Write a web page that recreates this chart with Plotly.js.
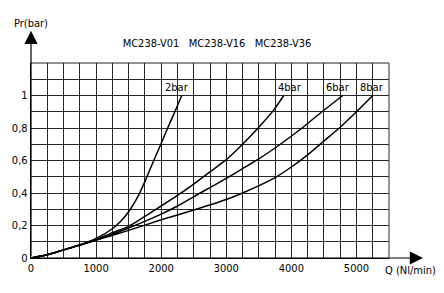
<!DOCTYPE html>
<html>
<head>
<meta charset="utf-8">
<script src="https://cdn.plot.ly/plotly-3.0.1.min.js"></script>
<style>html,body{margin:0;padding:0;background:#fff;}#chart{width:444px;height:293px;}</style>
</head>
<body>
<div id="chart"></div>
<script>
// ---- data ----
const seriesNames = ["2bar", "4bar", "6bar", "8bar"];
const q2 = [0, 250, 500, 750, 1000, 1250, 1375, 1500, 1625, 1750, 1870, 2000, 2100, 2210, 2316];
const p2 = [0, 0.02, 0.05, 0.08, 0.12, 0.18, 0.225, 0.285, 0.365, 0.47, 0.585, 0.705, 0.8, 0.9, 1.0];
const q4 = [0, 250, 500, 750, 1000, 1250, 1500, 2000, 2250, 2500, 2750, 3000, 3250, 3500, 3728, 3883];
const p4 = [0, 0.02, 0.05, 0.08, 0.115, 0.155, 0.195, 0.32, 0.385, 0.455, 0.53, 0.605, 0.7, 0.805, 0.91, 1.0];
const q6 = [0, 250, 500, 750, 1000, 1500, 2000, 2250, 2600, 3000, 3250, 3500, 3830, 4165, 4470, 4790];
const p6 = [0, 0.02, 0.05, 0.08, 0.11, 0.185, 0.27, 0.32, 0.4, 0.49, 0.55, 0.61, 0.7, 0.8, 0.9, 1.0];
const q8 = [0, 250, 500, 750, 1000, 1500, 2000, 2500, 3000, 3250, 3750, 4000, 4250, 4500, 4750, 5000, 5250];
const p8 = [0, 0.02, 0.05, 0.08, 0.11, 0.17, 0.235, 0.295, 0.36, 0.4, 0.495, 0.56, 0.635, 0.72, 0.805, 0.9, 1.0];
const xTickVals = [0, 1000, 2000, 3000, 4000, 5000];
const xTickText = ["0", "1000", "2000", "3000", "4000", "5000"];
const yTickVals = [0, 0.2, 0.4, 0.6, 0.8, 1];
const yTickText = ["0", "0,2", "0,4", "0,6", "0,8", "1"];
const titleText = "MC238-V01&nbsp;&nbsp;&nbsp;MC238-V16&nbsp;&nbsp;&nbsp;MC238-V36";
const yAxisLabel = "Pr(bar)";
const xAxisLabel = "Q (Nl/min)";

// ---- style ----
const FONT = "'DejaVu Sans Condensed', 'Liberation Sans Narrow', 'Arial Narrow', sans-serif";
const INK = "#000";
const GRID = "#262626";
const labelOffsets = [-70, 100, -67, -9];

const qs = [q2, q4, q6, q8];
const ps = [p2, p4, p6, p8];

const traces = qs.map((q, i) => ({
  x: q, y: ps[i], type: "scatter", mode: "lines", name: seriesNames[i],
  line: {color: INK, width: 1.5, shape: "spline", smoothing: 0.6},
  hoverinfo: "skip"
}));

const annotations = seriesNames.map((n, i) => ({
  x: qs[i][qs[i].length - 1] + labelOffsets[i],
  y: ps[i][ps[i].length - 1] + 0.05,
  xref: "x", yref: "y", text: n, showarrow: false,
  font: {family: FONT, size: 11, color: INK}, xanchor: "center", yanchor: "middle"
}));

// axis arrows
annotations.push({
  x: 0, y: 1.165, xref: "paper", yref: "paper", ax: 0, ay: 227, axref: "pixel", ayref: "pixel",
  text: "", showarrow: true, arrowhead: 2, arrowsize: 2.2, arrowwidth: 1.2, arrowcolor: INK, standoff: 0, startstandoff: 0
});
annotations.push({
  x: 1.095, y: 0, xref: "paper", yref: "paper", ax: -392, ay: 0, axref: "pixel", ayref: "pixel",
  text: "", showarrow: true, arrowhead: 2, arrowsize: 2.2, arrowwidth: 1.2, arrowcolor: INK, standoff: 0, startstandoff: 0
});
annotations.push({
  x: 0, y: 1.205, xref: "paper", yref: "paper", text: yAxisLabel, showarrow: false,
  font: {family: FONT, size: 11, color: INK}, xanchor: "center", yanchor: "middle"
});
annotations.push({
  x: 1.061, y: -0.065, xref: "paper", yref: "paper", text: xAxisLabel, showarrow: false,
  font: {family: FONT, size: 11, color: INK}, xanchor: "center", yanchor: "middle"
});

const layout = {
  width: 444, height: 293,
  margin: {l: 31, r: 55, t: 63, b: 35, pad: 0},
  paper_bgcolor: "#fff", plot_bgcolor: "#fff",
  showlegend: false,
  font: {family: FONT, size: 11, color: INK},
  title: {text: titleText, x: 217 / 444, xref: "container", y: 1 - 43 / 293, yref: "container",
          xanchor: "center", yanchor: "middle", font: {family: FONT, size: 11, color: INK}},
  xaxis: {
    range: [0, 5500], tickvals: xTickVals, ticktext: xTickText,
    showgrid: true, gridcolor: GRID, gridwidth: 1,
    minor: {dtick: 250, tick0: 0, showgrid: true, gridcolor: GRID, gridwidth: 1},
    zeroline: false, showline: true, linecolor: INK, linewidth: 1.2,
    ticks: "", tickfont: {family: FONT, size: 11, color: INK}, fixedrange: true
  },
  yaxis: {
    range: [0, 1.2], tickvals: yTickVals, ticktext: yTickText,
    showgrid: true, gridcolor: GRID, gridwidth: 1,
    minor: {dtick: 0.1, tick0: 0, showgrid: true, gridcolor: GRID, gridwidth: 1},
    zeroline: false, showline: true, linecolor: INK, linewidth: 1.2,
    ticks: "", tickfont: {family: FONT, size: 11, color: INK}, fixedrange: true
  },
  shapes: [
    {type: "line", xref: "paper", yref: "paper", x0: 0, x1: 1, y0: 1, y1: 1, line: {color: GRID, width: 1}},
    {type: "line", xref: "paper", yref: "paper", x0: 1, x1: 1, y0: 0, y1: 1, line: {color: GRID, width: 1}}
  ],
  annotations: annotations
};

Plotly.newPlot("chart", traces, layout, {displayModeBar: false, staticPlot: true});
</script>
</body>
</html>
